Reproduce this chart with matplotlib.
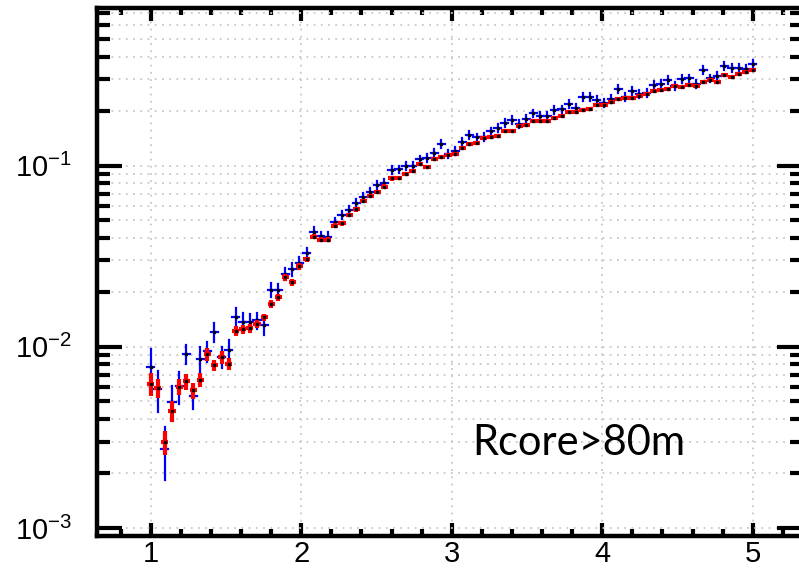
import numpy as np
import matplotlib
matplotlib.use("Agg")
import matplotlib.pyplot as plt
from matplotlib.ticker import FixedLocator, NullFormatter, MultipleLocator

# bin centres (uniform bins between 1 and 5)
n_bins = 86
x_centres = np.linspace(1.0, 5.0, n_bins)

# red series
red_vals = [
    0.00627, 0.00593, 0.00298, 0.00445, 0.00601, 0.00646, 0.00576, 0.00659, 0.00909, 0.00795,
    0.00879, 0.00807, 0.01227, 0.01248, 0.01264, 0.01342, 0.01455, 0.01722, 0.01874, 0.02428,
    0.0228, 0.0278, 0.0305, 0.0406, 0.0390, 0.0390, 0.0466, 0.0482, 0.0535, 0.0575,
    0.0639, 0.0681, 0.0716, 0.0766, 0.0852, 0.0852, 0.0897, 0.0935, 0.1018, 0.0988,
    0.1089, 0.1115, 0.1145, 0.1160, 0.1247, 0.1318, 0.1340, 0.1416, 0.1433, 0.1458,
    0.1553, 0.1559, 0.1661, 0.1675, 0.1770, 0.1770, 0.1770, 0.1837, 0.1878, 0.1985,
    0.1990, 0.2027, 0.2046, 0.2160, 0.2166, 0.2244, 0.2322, 0.2370, 0.2370, 0.2420,
    0.2484, 0.2582, 0.2613, 0.2658, 0.2773, 0.2723, 0.2794, 0.2748, 0.2917, 0.2965,
    0.2882, 0.3150, 0.3092, 0.3228, 0.3280, 0.3365,
]
red_rel_err = [
    0.15, 0.12, 0.15, 0.13, 0.10, 0.10, 0.10, 0.09, 0.08, 0.07,
    0.08, 0.08, 0.06, 0.06, 0.055, 0.05, 0.05, 0.05, 0.045, 0.045,
    0.045, 0.04, 0.03, 0.03, 0.03, 0.03, 0.03, 0.03, 0.03, 0.03,
    0.03, 0.03, 0.03, 0.03, 0.03, 0.02, 0.02, 0.02, 0.02, 0.02,
    0.02, 0.02, 0.02, 0.02, 0.02, 0.02, 0.02, 0.02, 0.02, 0.02,
    0.02, 0.02, 0.02, 0.02, 0.02, 0.02, 0.02, 0.02, 0.02, 0.02,
    0.02, 0.02, 0.02, 0.02, 0.02, 0.02, 0.02, 0.02, 0.02, 0.02,
    0.02, 0.02, 0.02, 0.02, 0.02, 0.02, 0.02, 0.02, 0.02, 0.02,
    0.02, 0.02, 0.02, 0.02, 0.02, 0.02,
]

# blue series
blue_vals = [
    0.00774, 0.00586, 0.00273, 0.00499, 0.00605, 0.00918, 0.00533, 0.00857, 0.00944, 0.01202,
    0.00879, 0.00957, 0.01455, 0.01365, 0.01365, 0.0140, 0.0132, 0.02065, 0.0205, 0.0253,
    0.0269, 0.0292, 0.0329, 0.0433, 0.0410, 0.0406, 0.0491, 0.0535, 0.0570, 0.0621,
    0.0670, 0.0719, 0.0783, 0.0806, 0.0947, 0.0955, 0.0996, 0.0996, 0.1084, 0.1099,
    0.1180, 0.1318, 0.1160, 0.1210, 0.1350, 0.1483, 0.1433, 0.1445, 0.1548, 0.1614,
    0.1726, 0.1786, 0.1698, 0.1815, 0.1945, 0.1878, 0.1878, 0.2027, 0.2046, 0.2187,
    0.2089, 0.2400, 0.2400, 0.2300, 0.2225, 0.2350, 0.2667, 0.2400, 0.2580, 0.2505,
    0.2526, 0.2786, 0.2845, 0.2965, 0.2748, 0.3006, 0.3034, 0.2818, 0.3365, 0.3034,
    0.3130, 0.3556, 0.3484, 0.3484, 0.3420, 0.3663,
]
blue_rel_err = [
    0.25, 0.25, 0.33, 0.22, 0.20, 0.12, 0.15, 0.17, 0.13, 0.12,
    0.13, 0.14, 0.13, 0.12, 0.11, 0.10, 0.12, 0.09, 0.08, 0.08,
    0.08, 0.08, 0.065, 0.055, 0.055, 0.055, 0.05, 0.05, 0.05, 0.05,
    0.05, 0.05, 0.05, 0.05, 0.05, 0.05, 0.05, 0.05, 0.05, 0.05,
    0.05, 0.05, 0.05, 0.05, 0.05, 0.05, 0.05, 0.05, 0.05, 0.05,
    0.05, 0.05, 0.05, 0.05, 0.05, 0.05, 0.05, 0.05, 0.05, 0.05,
    0.05, 0.05, 0.05, 0.05, 0.05, 0.05, 0.05, 0.05, 0.05, 0.05,
    0.05, 0.05, 0.05, 0.05, 0.05, 0.05, 0.05, 0.05, 0.05, 0.05,
    0.05, 0.05, 0.05, 0.05, 0.05, 0.05,
]

x_ticks = [1, 2, 3, 4, 5]
x_tick_labels = ["1", "2", "3", "4", "5"]
y_ticks = [1e-3, 1e-2, 1e-1]
y_tick_labels = [r"$\mathregular{10^{-3}}$", r"$\mathregular{10^{-2}}$", r"$\mathregular{10^{-1}}$"]
label_text = "Rcore>80m"

plt.rcParams["font.family"] = ["Liberation Sans", "DejaVu Sans"]
plt.rcParams["mathtext.fontset"] = "custom"
plt.rcParams["mathtext.rm"] = "Liberation Sans"

fig = plt.figure(figsize=(7.99, 5.70), dpi=100)
ax = fig.add_axes([97 / 799, 34 / 570, 705 / 799, 528 / 570])

half_bin = (x_centres[1] - x_centres[0]) / 2
red = np.array(red_vals)
blue = np.array(blue_vals)

# blue first, red drawn on top
eb = ax.errorbar(x_centres, blue, xerr=half_bin, yerr=blue * np.array(blue_rel_err),
                 fmt="none", ecolor="#0000ff", elinewidth=1.6, zorder=3)
for c in eb[2]:
    c.set_capstyle("projecting")
ax.plot(x_centres, blue, "s", color="black", markersize=1.4, zorder=4)

ax.errorbar(x_centres, red, xerr=half_bin, yerr=red * np.array(red_rel_err),
            fmt="none", ecolor="#ff0000", elinewidth=3.0, zorder=5)
ax.plot(x_centres, red, "s", color="black", markersize=1.4, zorder=6)

ax.set_yscale("log")
ax.set_xlim(0.643, 5.327)
ax.set_ylim(9.03e-4, 0.743)

ax.xaxis.set_major_locator(FixedLocator(x_ticks))
ax.set_xticklabels(x_tick_labels)
ax.xaxis.set_minor_locator(MultipleLocator(0.2))
ax.yaxis.set_major_locator(FixedLocator(y_ticks))
ax.set_yticklabels(y_tick_labels)
ax.yaxis.set_minor_locator(FixedLocator(
    [m * 10.0 ** e for e in (-4, -3, -2, -1) for m in range(2, 10)]))
ax.yaxis.set_minor_formatter(NullFormatter())

ax.tick_params(axis="both", which="both", direction="in",
               top=True, right=True, width=3, color="black")
ax.tick_params(axis="x", which="major", length=9.5, labelsize=21, pad=3)
ax.tick_params(axis="x", which="minor", length=5)
ax.tick_params(axis="y", which="major", length=18, labelsize=21, pad=18)
ax.tick_params(axis="y", which="minor", length=9)

for s in ax.spines.values():
    s.set_linewidth(3.2)

ax.grid(True, which="major", axis="x", color="#c8c8c8", linestyle=(0, (1, 3)), linewidth=1.3)
ax.grid(True, which="both", axis="y", color="#c8c8c8", linestyle=(0, (1, 3)), linewidth=1.3)
ax.set_axisbelow(True)

ax.text(3.136, 0.00252, label_text, fontsize=30, family=["Lato", "DejaVu Sans"],
        ha="left", va="baseline", zorder=7)

fig.savefig("out.png", dpi=100)
